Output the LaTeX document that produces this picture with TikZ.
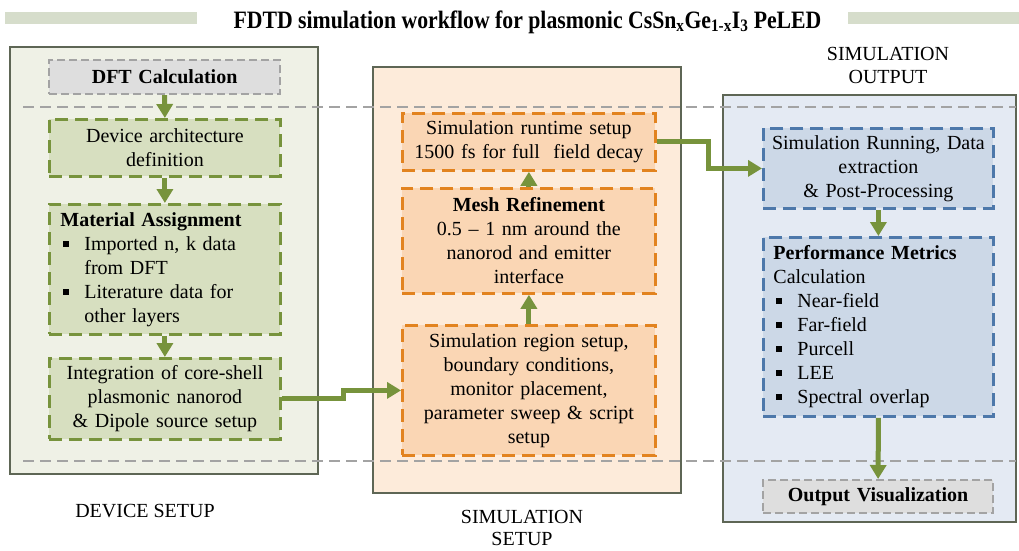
\documentclass[tikz,border=0pt]{standalone}
\usepackage{fontspec}
\usepackage{graphicx}
\setmainfont{Liberation Serif}
\usetikzlibrary{arrows.meta}
\definecolor{barc}{HTML}{D6DDCB}
\definecolor{panelline}{HTML}{5E6655}
\definecolor{lpanel}{HTML}{EFF1E6}
\definecolor{mpanel}{HTML}{FDEBDA}
\definecolor{rpanel}{HTML}{E4EAF3}
\definecolor{ofill}{HTML}{D7DFC0}
\definecolor{oline}{HTML}{77933C}
\definecolor{orfill}{HTML}{FAD6B4}
\definecolor{orline}{HTML}{E2831F}
\definecolor{bfill}{HTML}{CCD8E7}
\definecolor{bline}{HTML}{4D78AA}
\definecolor{gfill}{HTML}{DEDEDE}
\definecolor{gline}{HTML}{A3A3A3}
\definecolor{arrowc}{HTML}{77933C}
\newcommand{\sqbul}{\makebox[24pt][l]{\hspace{2.5pt}\raisebox{3.5pt}{\rule{6pt}{6pt}}}}
\begin{document}
\begin{tikzpicture}[x=1pt,y=-1pt,
  panel/.style={draw=panelline, line width=1.6pt},
  sep/.style={draw=gline, line width=2pt, dash pattern=on 11pt off 6pt},
  box/.style={anchor=north west, font=\fontsize{20}{24}\selectfont, inner xsep=5pt, inner ysep=0pt, align=center, line width=2.8pt, dash pattern=on 13pt off 7pt},
  obox/.style={box, fill=ofill, draw=oline},
  orbox/.style={box, fill=orfill, draw=orline},
  bbox/.style={box, fill=bfill, draw=bline},
  gbox/.style={box, fill=gfill, draw=gline, line width=2.2pt, dash pattern=on 8pt off 4pt, font=\fontsize{20}{24}\selectfont\bfseries},
  lbl/.style={font=\fontsize{20}{24}\selectfont, align=center, inner sep=0pt},
  arr/.style={draw=arrowc, line width=5pt, -{Triangle[length=14pt,width=16pt]}}
]
\useasboundingbox (0,0) rectangle (1019,550);
% title bars
\fill[barc] (5,12) rectangle (197,24);
\fill[barc] (848,12) rectangle (1019,24);
\node[anchor=base, inner sep=0pt, font=\fontsize{25}{30}\selectfont\bfseries] (title) at (527.5,28)
  {\scalebox{0.87}[1]{FDTD simulation workflow for plasmonic CsSn\textsubscript{x}Ge\textsubscript{1-x}I\textsubscript{3} PeLED}};
% panels
\draw[panel, fill=lpanel] (10,47) rectangle (318,474);
\draw[panel, fill=mpanel] (373,67) rectangle (681,493);
\draw[panel, fill=rpanel] (723,95) rectangle (1016,522);
% separators
\draw[sep] (23,107) -- (1016,107);
\draw[sep] (23,461) -- (1016,461);
% left boxes
\node[gbox, text width=221pt, minimum height=34pt] (dft) at (48,59) {DFT Calculation};
\node[obox, text width=221pt, minimum height=57pt] (dev) at (48,118) {Device architecture\\definition};
\node[obox, text width=209pt, inner xsep=11pt, align=left, minimum height=130pt] (mat) at (48,203)
  {\textbf{Material Assignment}\\
   \sqbul Imported n, k data\\
   \hspace*{24pt}from DFT\\
   \sqbul Literature data for\\
   \hspace*{24pt}other layers};
\node[obox, text width=221pt, minimum height=81pt] (integ) at (48,357)
  {Integration of core-shell\\plasmonic nanorod\\\& Dipole source setup};
% middle boxes
\node[orbox, text width=243pt, minimum height=57pt] (run) at (401,112)
  {Simulation runtime setup\\1500 fs for full\ \ field decay};
\node[orbox, text width=243pt, minimum height=105pt] (mesh) at (401,187)
  {\textbf{Mesh Refinement}\\0.5 -- 1 nm around the\\nanorod and emitter\\interface};
\node[orbox, text width=243pt, minimum height=130pt] (region) at (401,324)
  {Simulation region setup,\\boundary conditions,\\monitor placement,\\parameter sweep \& script\\setup};
% right boxes
\node[bbox, text width=220pt, minimum height=80pt] (simrun) at (762,127)
  {Simulation Running, Data\\extraction\\\& Post-Processing};
\node[bbox, text width=210pt, inner xsep=10pt, align=left, minimum height=179pt] (perf) at (762,236)
  {\textbf{Performance Metrics}\\
   Calculation\\
   \sqbul Near-field\\
   \sqbul Far-field\\
   \sqbul Purcell\\
   \sqbul LEE\\
   \sqbul Spectral overlap};
\node[gbox, text width=220pt, minimum height=33pt] (outvis) at (762,479) {Output Visualization};
% arrows
\draw[arr] (dft.south) -- (dev.north);
\draw[arr] (dev.south) -- (mat.north);
\draw[arr] (mat.south) -- (integ.north);
\draw[arr] (integ.east) -- ++(62,0) |- (region.west);
\draw[arr] (region.north) -- (mesh.south);
\draw[arr] (mesh.north) -- (run.south);
\draw[arr] (run.east) -- ++(52,0) |- (simrun.west);
\draw[arr] (simrun.south) -- (perf.north);
\draw[arr] (perf.south) -- (outvis.north);
% panel labels
\node[lbl, anchor=base] (lab1) at (145,517) {DEVICE SETUP};
\node[lbl, anchor=base] (lab2a) at (522,523) {SIMULATION};
\node[lbl, anchor=base] (lab2b) at (522,545) {SETUP};
\node[lbl, anchor=base] (lab3a) at (888,60) {SIMULATION};
\node[lbl, anchor=base] (lab3b) at (888,83) {OUTPUT};
\end{tikzpicture}
\end{document}
